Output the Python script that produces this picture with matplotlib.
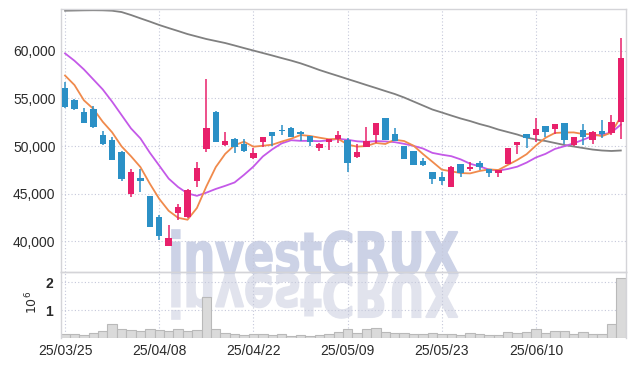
import numpy as np
import matplotlib
matplotlib.use('Agg')
import matplotlib.pyplot as plt
import matplotlib.transforms as mtransforms
from matplotlib.textpath import TextPath
from matplotlib.patches import PathPatch
from matplotlib.font_manager import FontProperties

# daily candles 2025/03/25 .. 2025/06/23 (one per trading day)
opens = [56080, 54820, 53560, 53880, 51110, 50620, 49360, 44990, 46630, 44740,
         42540, 39560, 42990, 42570, 46350, 49710, 53560, 50100, 50730, 50240,
         48770, 50450, 51460, 51710, 51880, 51460, 51040, 49750, 50450, 50730,
         50620, 48870, 49920, 51180, 52930, 51250, 49990, 49470, 48420, 47260,
         46770, 45720, 48070, 47610, 48210, 47610, 47190, 48070, 50130, 51220,
         51190, 52060, 51820, 52380, 50100, 51640, 50590, 51540, 51400, 52480]
highs = [56680, 54890, 54020, 54160, 51530, 50970, 49430, 47540, 47610, 44740,
         42750, 41660, 43870, 45480, 48280, 56990, 53670, 51430, 50830, 50690,
         49750, 50940, 51460, 52160, 51950, 51600, 51040, 50310, 50760, 51570,
         50870, 50170, 51950, 52370, 52930, 51880, 49990, 49470, 48730, 47260,
         47260, 47930, 48070, 48350, 48420, 47610, 47470, 49780, 50410, 51220,
         52990, 52060, 52310, 52380, 50910, 52270, 51570, 52760, 53250, 61300]
lows = [54020, 53810, 52440, 51920, 50060, 48560, 46280, 44670, 45200, 41520,
        40120, 39560, 42190, 42430, 45720, 49330, 50410, 50030, 49220, 49400,
        48660, 49850, 49970, 51150, 50900, 50550, 49990, 49500, 49570, 50270,
        47300, 48770, 49850, 50340, 50620, 50480, 48590, 48030, 47930, 45970,
        45930, 45720, 46700, 47330, 47470, 46770, 46700, 48070, 49120, 49750,
        50450, 50980, 51220, 50170, 50030, 50100, 50240, 50800, 51120, 50730]
closes = [54120, 53910, 52440, 52020, 50240, 48560, 46560, 47260, 46350, 41520,
          40580, 40300, 43590, 45340, 47680, 51880, 50450, 50520, 49920, 49500,
          49260, 50940, 51080, 51570, 50970, 51220, 50450, 50170, 50760, 51150,
          48240, 49360, 50480, 52370, 50620, 50480, 48660, 48030, 48000, 46560,
          46350, 47790, 47120, 47820, 47820, 47190, 47470, 49780, 50410, 50870,
          51760, 51500, 52310, 50660, 50910, 50910, 51430, 51260, 52550, 59200]

# moving averages as shown on the chart
ma5 = [57400, 56400, 54800, 53900, 52546, 51434, 49964, 48928, 47794, 46050,
       44454, 43202, 42468, 42266, 43498, 45758, 47788, 49174, 50090, 50454,
       49930, 50028, 50140, 50470, 50764, 51156, 51058, 50876, 50714, 50750,
       50154, 49936, 49998, 50320, 50214, 50662, 50522, 50032, 49158, 48346,
       47520, 47346, 47164, 47128, 47380, 47548, 47484, 48016, 48534, 49144,
       50058, 50864, 51370, 51420, 51428, 51258, 51244, 51034, 51412, 53070]
ma10 = [59720, 58950, 58040, 56990, 55940, 54650, 53250, 51850, 50800, 49298,
        47944, 46583, 45698, 45030, 44774, 45106, 45495, 45821, 46178, 46976,
        47844, 48908, 49657, 50280, 50609, 50543, 50543, 50508, 50592, 50757,
        50655, 50497, 50437, 50517, 50482, 50408, 50229, 50015, 49739, 49280,
        49091, 48934, 48598, 48143, 47863, 47534, 47415, 47590, 47831, 48262,
        48803, 49174, 49693, 49977, 50286, 50658, 51054, 51202, 51416, 52249]
ma_long = [64200, 64220, 64240, 64250, 64240, 64200, 64060, 63750, 63400, 63060,
           62700, 62380, 62070, 61750, 61490, 61230, 61020, 60810, 60550, 60280,
           60020, 59760, 59500, 59230, 58970, 58680, 58340, 57980, 57660, 57350,
           57030, 56720, 56400, 56090, 55770, 55460, 55090, 54670, 54250, 53830,
           53520, 53200, 52890, 52620, 52310, 52050, 51730, 51470, 51210, 50890,
           50680, 50530, 50320, 50110, 49950, 49790, 49630, 49530, 49480, 49530]

# volume in millions of shares
volume_m = [0.16, 0.13, 0.12, 0.18, 0.25, 0.49, 0.34, 0.30, 0.24, 0.34,
            0.30, 0.24, 0.34, 0.24, 0.30, 1.46, 0.34, 0.19, 0.16, 0.09,
            0.13, 0.16, 0.11, 0.13, 0.07, 0.09, 0.07, 0.09, 0.13, 0.22,
            0.34, 0.18, 0.31, 0.37, 0.22, 0.18, 0.18, 0.15, 0.13, 0.18,
            0.15, 0.13, 0.09, 0.18, 0.13, 0.09, 0.09, 0.21, 0.18, 0.23,
            0.31, 0.18, 0.24, 0.24, 0.13, 0.21, 0.13, 0.16, 0.52, 2.14]

date_ticks = [0, 10, 20, 30, 40, 50]
date_labels = ['25/03/25', '25/04/08', '25/04/22', '25/05/09', '25/05/23', '25/06/10']
price_ticks = [40000, 45000, 50000, 55000, 60000]
vol_ticks = [1, 2]

up_color = '#e8206b'
down_color = '#2b90c6'
grid_kw = dict(color='#c5c8da', lw=0.8, ls=(0, (1, 2)))
tick_font = ['Liberation Sans', 'DejaVu Sans']

x = np.arange(len(closes))
o = np.array(opens)
c = np.array(closes)
colors = [up_color if cc > oo else down_color for oo, cc in zip(o, c)]

fig = plt.figure(figsize=(6.34, 3.66), dpi=100)
fig.patch.set_facecolor('white')
ax = fig.add_axes([61/634, 1-272/366, 565/634, 263/366])
axv = fig.add_axes([61/634, 1-338/366, 565/634, 66/366], sharex=ax)

# watermark with its reflection
fp = FontProperties(family='DejaVu Sans', weight='bold')
tp = TextPath((0, 0), 'investCRUX', size=1, prop=fp)
ext = tp.get_extents()
sx = 286/ext.width
sy = 44/ext.y1
tr_main = mtransforms.Affine2D().translate(-ext.x0, 0).scale(sx, sy).translate(172, 366-274)
tr_refl = mtransforms.Affine2D().translate(-ext.x0, 0).scale(sx, -sy).translate(172, 366-275)
fig.add_artist(PathPatch(tp, transform=tr_main, facecolor='#ccd2e6', edgecolor='#ccd2e6',
                         lw=1.2, zorder=-1))
fig.add_artist(PathPatch(tp, transform=tr_refl, facecolor='#e1e3ed', edgecolor='#e1e3ed',
                         lw=1.2, zorder=-1))

for a in (ax, axv):
    a.set_facecolor('none')
    for s in a.spines.values():
        s.set_color('#d4d4d8')
        s.set_linewidth(1)
    a.tick_params(length=0, colors='#2a2a2a', labelsize=10)
    for xt in date_ticks:
        a.axvline(xt, zorder=0, **grid_kw)

# price panel
ax.vlines(x, lows, highs, colors=colors, lw=1.1, zorder=3)
body = np.maximum(np.abs(c - o), 60)
ax.bar(x, body, bottom=np.minimum(o, c), width=0.68, color=colors, zorder=4)
ax.plot(x, ma_long, color='#808080', lw=1.3, zorder=2)
ax.plot(x, ma10, color='#c459e8', lw=1.3, zorder=2)
ax.plot(x, ma5, color='#f08a4c', lw=1.3, zorder=2)
for yt in price_ticks:
    ax.axhline(yt, zorder=0, **grid_kw)
ax.set_ylim(36780, 64380)
ax.set_yticks(price_ticks)
ax.set_yticklabels(['{:,}'.format(v) for v in price_ticks], family=tick_font)
ax.tick_params(axis='y', pad=4)
ax.tick_params(axis='x', labelbottom=False)

# volume panel
axv.bar(x, volume_m, width=1.0, color='#dadada', edgecolor='#b9b9b9', lw=0.8, zorder=2)
for yt in vol_ticks:
    axv.axhline(yt, zorder=0, **grid_kw)
axv.set_ylim(0, 2.37)
axv.set_yticks(vol_ticks)
axv.set_yticklabels([str(v) for v in vol_ticks], family=tick_font, fontweight='bold')
axv.tick_params(axis='y', pad=6)
axv.set_xticks(date_ticks)
axv.set_xticklabels(date_labels, family=tick_font)
axv.tick_params(axis='x', pad=4)
axv.spines['bottom'].set_visible(False)
axv.set_xlim(-0.43, 59.55)
fig.text(32/634, 1-302/366, r'$10^{6}$', rotation=90, ha='center', va='center',
         fontsize=9, color='#2a2a2a')

fig.savefig('out.png', dpi=100)
